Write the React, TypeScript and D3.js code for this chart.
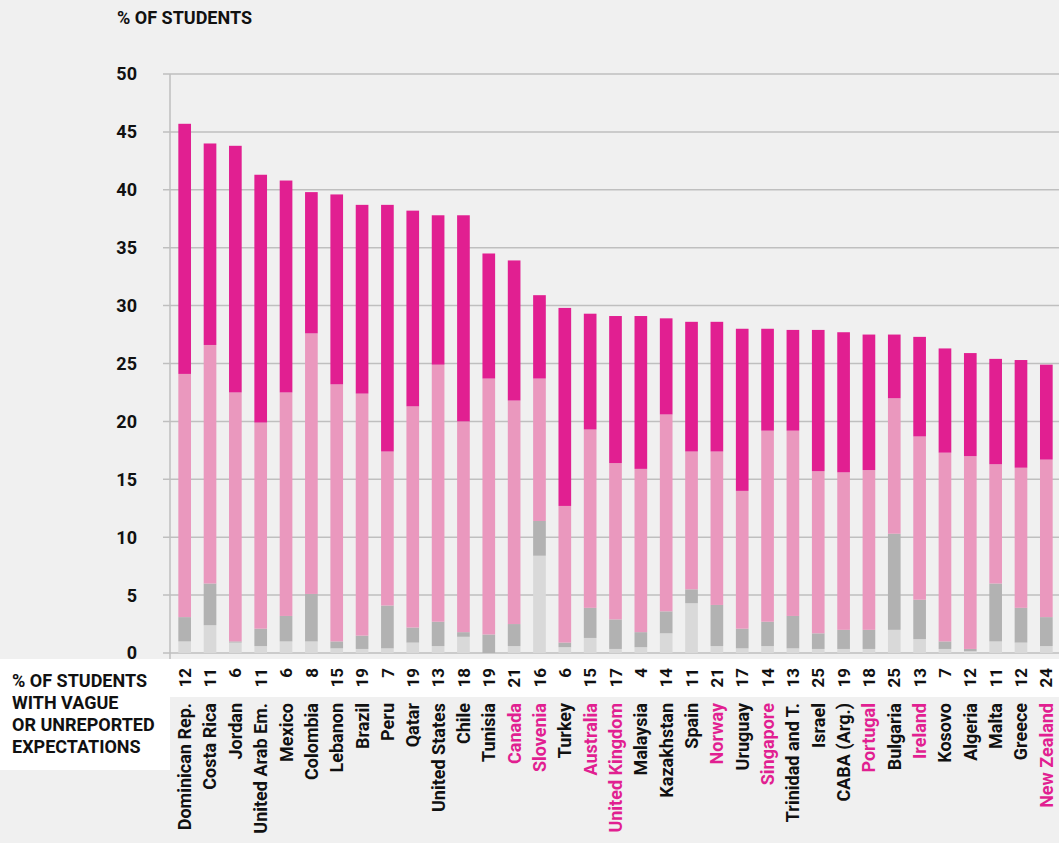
import React from "react";
import * as d3 from "d3";

const countries = [
  "Dominican Rep.", "Costa Rica", "Jordan", "United Arab Em.", "Mexico", "Colombia", "Lebanon",
  "Brazil", "Peru", "Qatar", "United States", "Chile", "Tunisia", "Canada", "Slovenia", "Turkey",
  "Australia", "United Kingdom", "Malaysia", "Kazakhstan", "Spain", "Norway", "Uruguay",
  "Singapore", "Trinidad and T.", "Israel", "CABA (Arg.)", "Portugal", "Bulgaria", "Ireland",
  "Kosovo", "Algeria", "Malta", "Greece", "New Zealand",
];

const highlighted = [
  "Canada", "Slovenia", "Australia", "United Kingdom", "Norway", "Singapore", "Portugal",
  "Ireland", "New Zealand",
];

const vagueExpectations = [
  12, 11, 6, 11, 6, 8, 15, 19, 7, 19, 13, 18, 19, 21, 16, 6, 15, 17, 4, 14, 11, 21, 17, 14, 13,
  25, 19, 18, 25, 13, 7, 12, 11, 12, 24,
];

// stacked segments, bottom to top
const seriesLightGray = [
  1.0, 2.4, 0.9, 0.6, 1.0, 1.0, 0.4, 0.35, 0.4, 0.9, 0.6, 1.4, 0, 0.6, 8.4, 0.5, 1.3, 0.35, 0.5,
  1.7, 4.3, 0.6, 0.4, 0.6, 0.4, 0.35, 0.35, 0.35, 2.0, 1.2, 0.35, 0.15, 1.0, 0.9, 0.6,
];
const seriesGray = [
  2.1, 3.6, 0.1, 1.5, 2.2, 4.1, 0.6, 1.15, 3.7, 1.3, 2.1, 0.4, 1.6, 1.9, 3.0, 0.4, 2.6, 2.55, 1.3,
  1.9, 1.2, 3.55, 1.7, 2.1, 2.8, 1.35, 1.65, 1.65, 8.3, 3.4, 0.65, 0.2, 5.0, 3.0, 2.5,
];
const seriesPink = [
  21.0, 20.6, 21.5, 17.8, 19.3, 22.5, 22.2, 20.9, 13.3, 19.1, 22.2, 18.2, 22.1, 19.3, 12.3, 11.8,
  15.4, 13.5, 14.1, 17.0, 11.9, 13.25, 11.9, 16.5, 16.0, 14.0, 13.6, 13.8, 11.7, 14.1, 16.3, 16.65,
  10.3, 12.1, 13.6,
];
const seriesMagenta = [
  21.6, 17.4, 21.3, 21.4, 18.3, 12.2, 16.4, 16.3, 21.3, 16.9, 12.9, 17.8, 10.8, 12.1, 7.2, 17.1,
  10.0, 12.7, 13.2, 8.3, 11.2, 11.2, 14.0, 8.8, 8.7, 12.2, 12.1, 11.7, 5.5, 8.6, 9.0, 8.9, 9.1,
  9.3, 8.2,
];

const yTicks = [0, 5, 10, 15, 20, 25, 30, 35, 40, 45, 50];
const seriesKeys = ["lightGray", "gray", "pink", "magenta"];
const seriesColors = ["#d9d9d9", "#b2b2b2", "#ea98be", "#e11f91"];

const W = 1059;
const H = 843;
const FONT = "Roboto, 'Noto Sans', sans-serif";

export default function App() {
  const rows = countries.map((c, i) => ({
    country: c,
    lightGray: seriesLightGray[i],
    gray: seriesGray[i],
    pink: seriesPink[i],
    magenta: seriesMagenta[i],
  }));
  const stacked = d3.stack<any>().keys(seriesKeys)(rows);

  const x = d3
    .scaleBand<string>()
    .domain(countries)
    .range([172, 1059])
    .paddingInner(0.5)
    .paddingOuter(0.25);
  const y = d3.scaleLinear().domain([0, 50]).range([653, 74]);

  return (
    <div style={{ position: "absolute", left: 0, top: 0 }}>
      <svg width={W} height={H} style={{ display: "block" }} fontFamily={FONT}>
        <rect x={0} y={0} width={W} height={H} fill="#f0f0f0" />
        {/* title */}
        <text x={117} y={24} fontSize={18} fontWeight={700} fill="#111">
          % OF STUDENTS
        </text>
        {/* grid */}
        {yTicks.map((t) => (
          <g key={t}>
            <line x1={163} x2={W} y1={y(t)} y2={y(t)} stroke="#bfbfbf" strokeWidth={1.5} />
            <text
              x={137}
              y={y(t)}
              dy="0.36em"
              textAnchor="end"
              fontSize={18}
              fontWeight={700}
              fill="#111"
            >
              {t}
            </text>
          </g>
        ))}
        <line x1={170} x2={170} y1={74} y2={660} stroke="#bfbfbf" strokeWidth={1.5} />
        {/* bars */}
        {stacked.map((s, si) => (
          <g key={s.key} fill={seriesColors[si]}>
            {s.map((d: any) => {
              const y0 = y(d[0]);
              const y1 = y(d[1]);
              if (y0 - y1 <= 0) return null;
              return (
                <rect
                  key={d.data.country}
                  x={x(d.data.country)}
                  width={x.bandwidth()}
                  y={y1}
                  height={y0 - y1}
                />
              );
            })}
          </g>
        ))}
        {/* white band for numbers */}
        <rect x={0} y={659} width={W} height={38} fill="#ffffff" />
        <rect x={0} y={659} width={170} height={111} fill="#ffffff" />
        <text fontSize={18} fontWeight={700} fill="#111">
          {["% OF STUDENTS", "WITH VAGUE", "OR UNREPORTED", "EXPECTATIONS"].map((l, i) => (
            <tspan key={i} x={12} y={687 + i * 22}>
              {l}
            </tspan>
          ))}
        </text>
        {countries.map((c, i) => {
          const cx = (x(c) as number) + x.bandwidth() / 2;
          const hl = highlighted.includes(c);
          return (
            <g key={c}>
              <text
                transform={`translate(${cx},668) rotate(-90)`}
                textAnchor="end"
                dy="0.36em"
                fontSize={17}
                fontWeight={700}
                fill="#111"
              >
                {vagueExpectations[i]}
              </text>
              <text
                transform={`translate(${cx},703) rotate(-90)`}
                textAnchor="end"
                dy="0.36em"
                fontSize={18}
                fontWeight={700}
                fill={hl ? "#e11f91" : "#111"}
              >
                {c}
              </text>
            </g>
          );
        })}
      </svg>
    </div>
  );
}
